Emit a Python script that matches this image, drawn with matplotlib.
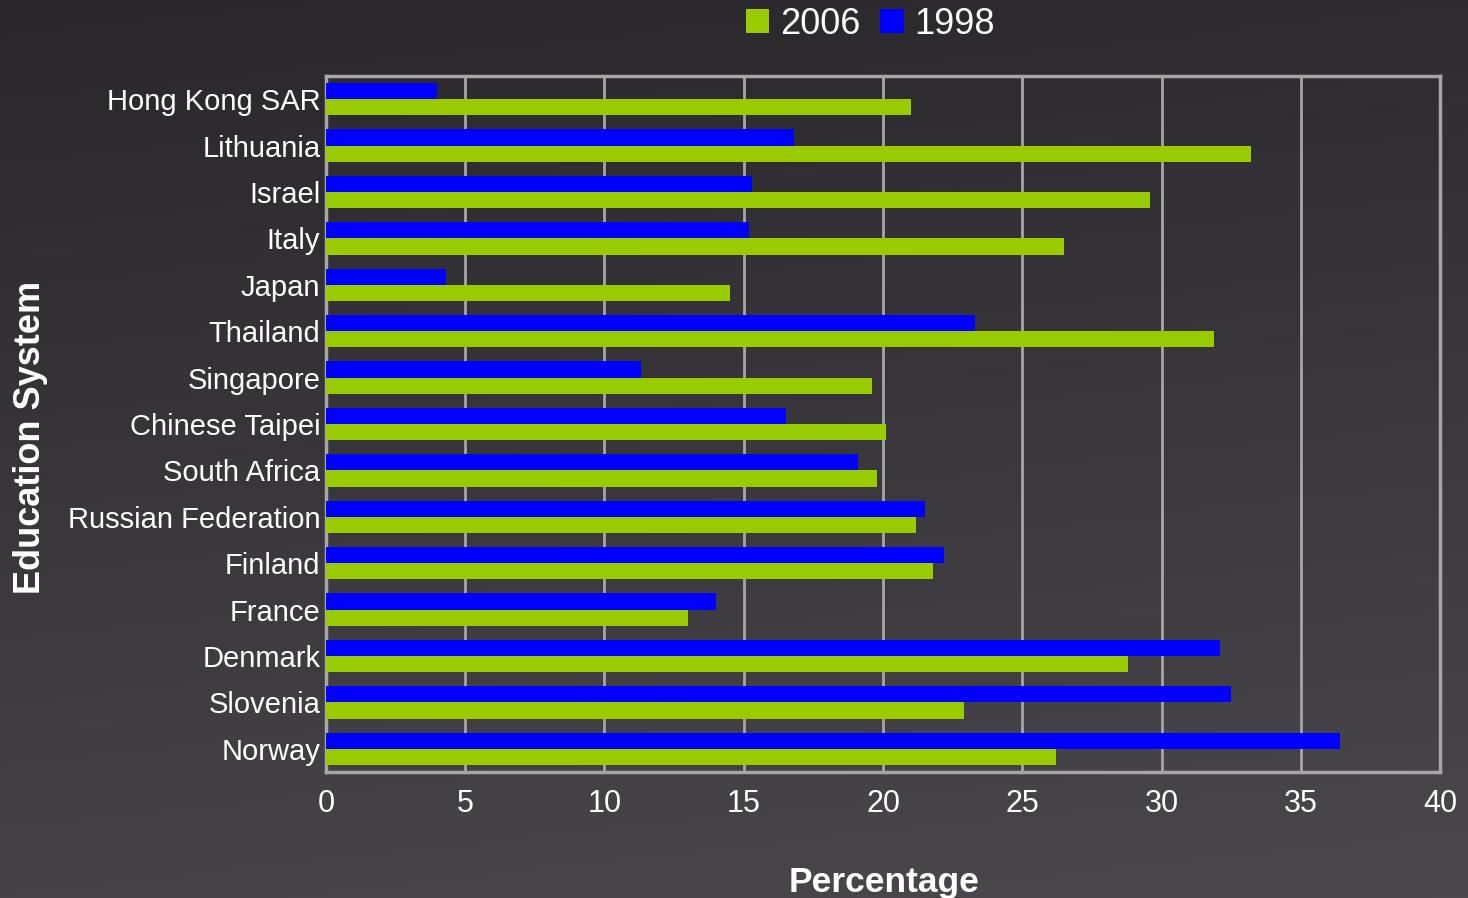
import numpy as np
import matplotlib
matplotlib.use("Agg")
import matplotlib.pyplot as plt
from matplotlib.colors import LinearSegmentedColormap

plt.rcParams['font.family'] = ['Liberation Sans', 'DejaVu Sans']

categories = ["Hong Kong SAR", "Lithuania", "Israel", "Italy", "Japan", "Thailand",
              "Singapore", "Chinese Taipei", "South Africa", "Russian Federation",
              "Finland", "France", "Denmark", "Slovenia", "Norway"]
values_2006 = [21.0, 33.2, 29.6, 26.5, 14.5, 31.9, 19.6, 20.1, 19.8, 21.2,
               21.8, 13.0, 28.8, 22.9, 26.2]
values_1998 = [4.0, 16.8, 15.3, 15.2, 4.3, 23.3, 11.3, 16.5, 19.1, 21.5,
               22.2, 14.0, 32.1, 32.5, 36.4]
x_ticks = [0, 5, 10, 15, 20, 25, 30, 35, 40]

GREEN = "#99cc00"
BLUE = "#0000ff"
GRID = "#a6a6a6"

fig = plt.figure(figsize=(14.68, 8.98), dpi=100)

# dark gradient backdrop
bg = fig.add_axes([0, 0, 1, 1], zorder=-10)
yy, xx = np.mgrid[0:1:200j, 0:1:300j]
grad = 0.85 * yy + 0.15 * xx
cmap = LinearSegmentedColormap.from_list("bg", ["#29272b", "#4b484d"])
bg.imshow(grad, cmap=cmap, aspect="auto", extent=[0, 1, 0, 1], origin="upper")
bg.axis("off")

ax = fig.add_axes([0.222, 0.1403, 0.759, 0.7751])
ax.set_facecolor("none")

y = np.arange(len(categories))
h = 0.35
ax.barh(y - h / 2, values_1998, height=h, color=BLUE, label="1998", zorder=3)
ax.barh(y + h / 2, values_2006, height=h, color=GREEN, label="2006", zorder=3)

ax.set_ylim(len(categories) - 0.5, -0.5)
ax.set_xlim(0, 40)
ax.set_xticks(x_ticks)
ax.set_yticks(y)
ax.set_yticklabels(categories)
ax.tick_params(axis="both", length=0, colors="white", labelsize=21)
ax.tick_params(axis="x", labelsize=22, pad=12)
ax.tick_params(axis="y", pad=4)
ax.xaxis.grid(True, color=GRID, linewidth=2, zorder=1)
ax.set_axisbelow(True)
for s in ax.spines.values():
    s.set_color(GRID)
    s.set_linewidth(2.5)

fig.text(0.602, 0.007, "Percentage", color="white", fontsize=25.5,
         fontweight="bold", ha="center", va="baseline")
fig.text(0.021, 0.513, "Education System", color="white", fontsize=26,
         fontweight="bold", rotation=90, ha="center", va="center")

handles, labels = ax.get_legend_handles_labels()
leg = fig.legend(handles[::-1], labels[::-1], loc="center", bbox_to_anchor=(0.593, 0.973),
                 ncol=2, frameon=False, fontsize=26, labelcolor="white",
                 handlelength=0.65, handleheight=0.65, handletextpad=0.3,
                 columnspacing=0.55)

fig.savefig("out.png", dpi=100)
